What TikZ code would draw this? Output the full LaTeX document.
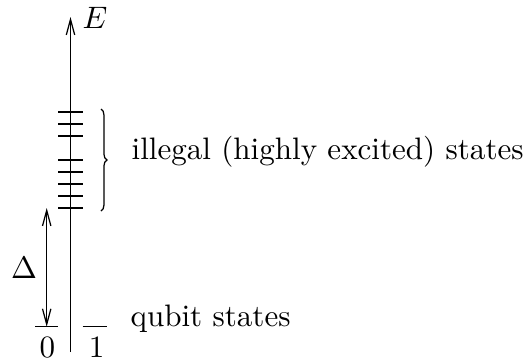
\documentclass[tikz,border=0pt]{standalone}
\usepackage{amssymb}
\usetikzlibrary{positioning, calc, arrows.meta, decorations.pathreplacing}

\begin{document}
\begin{tikzpicture}[
    x=0.322pt, y=-0.322pt,
    >={Straight Barb[length=5pt,width=2.7pt]},
    level/.style={line width=0.4pt},
    label/.style={inner sep=0pt, anchor=base west}
]
    \useasboundingbox (0,0) rectangle (525,360);

    % Energy axis
    \coordinate (axbase) at (70.5,352);
    \coordinate (axtop) at (70.5,17);
    \draw[->] (axbase) -- (axtop);
    \node (elabel) at (95,18) {$E$};

    % Excited levels
    \foreach \y in {112,124,136,160,172,184,196,208}
        \draw[level] (58,\y) -- (83,\y);

    % Qubit levels
    \coordinate (zeroL) at (35,326.7);
    \coordinate (zeroR) at (58,326.7);
    \coordinate (oneL) at (82.7,326.7);
    \coordinate (oneR) at (106.7,326.7);
    \draw[level] (zeroL) -- (zeroR);
    \draw[level] (oneL) -- (oneR);
    \node (zero) at (47.5,347) {$0$};
    \node (one) at (96.7,347) {$1$};

    % Gap
    \coordinate (gapbot) at (46.7,326.7);
    \coordinate (gaptop) at (46.7,208);
    \draw[<->] (gapbot) -- (gaptop);
    \node (delta) at (24,268) {$\Delta$};

    % Brace and labels
    \coordinate (bracetop) at (101,109);
    \coordinate (bracebot) at (101,211);
    \draw[decorate, decoration={brace, amplitude=1.9pt}] (bracetop) -- (bracebot);
    \node[label] (illegal) at (131,159) {illegal (highly excited) states};
    \node[label] (qubit) at (130,326) {qubit states};
\end{tikzpicture}
\end{document}
